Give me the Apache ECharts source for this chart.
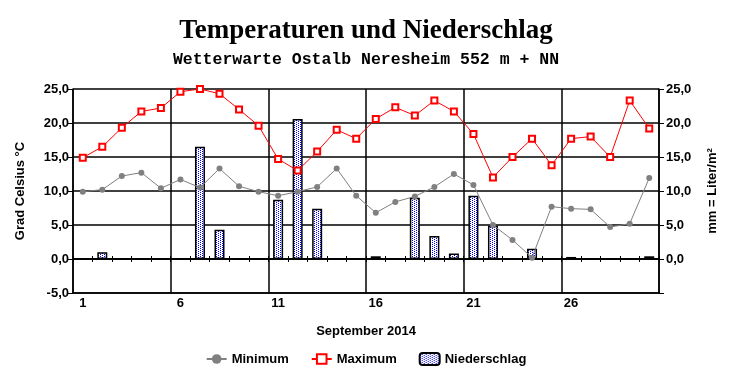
<!DOCTYPE html>
<html>
<head>
<meta charset="utf-8">
<script src="https://cdn.jsdelivr.net/npm/echarts@6/dist/echarts.min.js"></script>
<style>
html,body{margin:0;padding:0;background:#fff;}
#chart{width:732px;height:380px;}
</style>
</head>
<body>
<div id="chart"></div>
<script>
var days = ['1','2','3','4','5','6','7','8','9','10','11','12','13','14','15','16','17','18','19','20','21','22','23','24','25','26','27','28','29','30'];
var minTemp = [9.9,10.2,12.2,12.7,10.4,11.7,10.5,13.3,10.7,9.9,9.3,9.9,10.6,13.3,9.3,6.8,8.4,9.2,10.6,12.5,10.9,5.0,2.8,0.2,7.7,7.4,7.3,4.7,5.2,11.9];
var maxTemp = [14.9,16.5,19.3,21.7,22.2,24.6,25.0,24.3,22.0,19.6,14.7,13.0,15.8,19.0,17.7,20.6,22.3,21.1,23.3,21.7,18.4,12.0,15.0,17.7,13.8,17.7,18.0,15.0,23.3,19.2];
var precip = [0,1.0,0,0,0,0.1,16.5,4.3,0,0,8.7,20.6,7.4,0,0,0.4,0,9.0,3.4,0.8,9.3,4.9,0,1.5,0,0.3,0,0.1,0,0.4];

var titleText = 'Temperaturen und Niederschlag';
var subText = 'Wetterwarte Ostalb Neresheim 552 m + NN';
var xName = 'September 2014';
var yLeftName = 'Grad Celsius °C';
var yRightName = 'mm = Liter/m²';
var seriesNames = ['Minimum','Maximum','Niederschlag'];

// dotted fill pattern for precipitation bars
var pc = document.createElement('canvas');
pc.width = 4; pc.height = 2;
var pctx = pc.getContext('2d');
pctx.fillStyle = '#ffffff'; pctx.fillRect(0,0,4,2);
pctx.fillStyle = '#0000ff';
pctx.fillRect(0,0,1,1); pctx.fillRect(2,1,1,1);
var pattern = {image: pc, repeat: 'repeat'};

var F = 'Liberation Sans, Arial, sans-serif';
function fmt(v){ return v.toFixed(1).replace('.', ','); }

var chart = echarts.init(document.getElementById('chart'), null, {renderer:'canvas'});
var catAxisBase = {type:'category', data: days, boundaryGap: true};
chart.setOption({
  animation: false,
  backgroundColor: '#ffffff',
  title: [
    {text: titleText, left: 'center', top: 13,
     textStyle:{fontFamily:'Liberation Serif, Times New Roman, serif', fontWeight:'bold', fontSize:27, color:'#000'}},
    {text: subText, left: 'center', top: 46,
     textStyle:{fontFamily:'Liberation Mono, Courier New, monospace', fontWeight:'bold', fontSize:16.5, color:'#000'}}
  ],
  legend: {
    data: seriesNames, left: 'center', top: 347,
    itemWidth: 20, itemHeight: 12, itemGap: 22,
    textStyle:{fontFamily:F, fontWeight:'bold', fontSize:13, color:'#000'}
  },
  grid: {left: 73, right: 73, top: 89, bottom: 87, containLabel: false},
  xAxis: [
    Object.assign({}, catAxisBase, {
      position:'bottom',
      name: xName, nameLocation:'middle', nameGap: 32,
      nameTextStyle:{fontFamily:F, fontWeight:'bold', fontSize:13, color:'#000'},
      axisLine:{show:true, onZero:false, lineStyle:{color:'#000', width:1.5}},
      axisTick:{show:false},
      axisLabel:{interval:4, margin:4, fontFamily:F, fontWeight:'bold', fontSize:13, color:'#000'},
      splitLine:{show:true, interval:4, lineStyle:{color:'#000', width:1.5}}
    }),
    Object.assign({}, catAxisBase, {
      position:'bottom',
      axisLine:{show:true, onZero:true, onZeroAxisIndex:0, lineStyle:{color:'#000', width:1.5}},
      axisTick:{show:true, interval:0, length:3, inside:false, lineStyle:{color:'#000', width:1}},
      axisLabel:{show:false}, splitLine:{show:false}
    }),
    Object.assign({}, catAxisBase, {
      position:'bottom',
      axisLine:{show:true, onZero:true, onZeroAxisIndex:0, lineStyle:{color:'#000', width:1.5}},
      axisTick:{show:true, interval:0, length:3, inside:true, lineStyle:{color:'#000', width:1}},
      axisLabel:{show:false}, splitLine:{show:false}
    })
  ],
  yAxis: [
    {type:'value', min:-5, max:25, interval:5, position:'left',
     name: yLeftName, nameLocation:'middle', nameGap:46, nameRotate:90,
     nameTextStyle:{fontFamily:F, fontWeight:'bold', fontSize:13, color:'#000'},
     axisLine:{show:true, lineStyle:{color:'#000', width:1.5}},
     axisTick:{show:true, length:5, lineStyle:{color:'#000', width:1}},
     axisLabel:{margin:4, formatter: fmt, fontFamily:F, fontWeight:'bold', fontSize:13, color:'#000'},
     splitLine:{show:true, lineStyle:{color:'#000', width:1.5}}},
    {type:'value', min:-5, max:25, interval:5, position:'right',
     name: yRightName, nameLocation:'middle', nameGap:47, nameRotate:90,
     nameTextStyle:{fontFamily:F, fontWeight:'bold', fontSize:13, color:'#000'},
     axisLine:{show:true, lineStyle:{color:'#000', width:1.5}},
     axisTick:{show:true, length:5, lineStyle:{color:'#000', width:1}},
     axisLabel:{margin:7, formatter: function(v){ return v < 0 ? '' : fmt(v); }, fontFamily:F, fontWeight:'bold', fontSize:13, color:'#000'},
     splitLine:{show:false}}
  ],
  series: [
    {name: seriesNames[2], type:'bar', xAxisIndex:0, yAxisIndex:1, data: precip,
     barWidth: 10, z: 1,
     itemStyle:{color: pattern, borderColor:'#000', borderWidth:1.5}},
    {name: seriesNames[0], type:'line', xAxisIndex:0, yAxisIndex:0, data: minTemp,
     symbol:'circle', symbolSize:6, z: 3,
     lineStyle:{color:'#808080', width:1},
     itemStyle:{color:'#808080'}},
    {name: seriesNames[1], type:'line', xAxisIndex:0, yAxisIndex:0, data: maxTemp,
     symbol:'emptyRect', symbolSize:6, z: 4,
     lineStyle:{color:'#ff0000', width:1},
     itemStyle:{color:'#ff0000', borderColor:'#ff0000', borderWidth:1.2}}
  ]
});
</script>
</body>
</html>
